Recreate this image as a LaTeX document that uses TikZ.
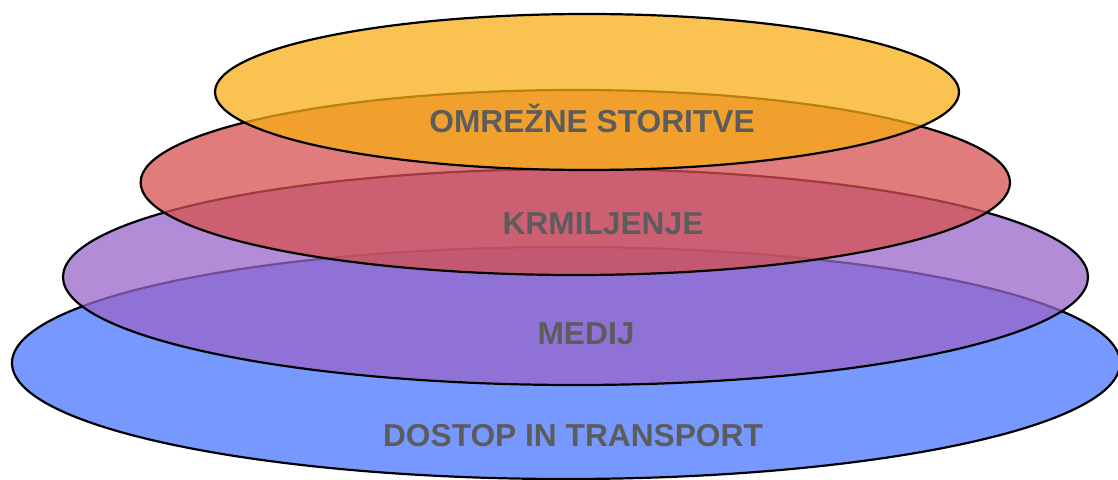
\documentclass[tikz,border=0pt]{standalone}
\usepackage{fontspec}
\setmainfont{Liberation Sans}
\definecolor{laydostop}{RGB}{73,119,255}
\definecolor{laymedij}{RGB}{154,102,202}
\definecolor{laykrmil}{RGB}{213,80,80}
\definecolor{layomrez}{RGB}{248,173,21}
\definecolor{laytext}{RGB}{92,92,92}

\begin{document}
\begin{tikzpicture}[x=1pt,y=-1pt,
      layer/.style={draw=black,line width=2.2pt,fill opacity=0.75},
      every node/.style={inner sep=0pt,anchor=base,text=laytext,
        font=\fontsize{31.7}{36}\selectfont\bfseries}]
      \useasboundingbox (0,0) rectangle (1118,479);
      \clip (0,0) rectangle (1118,479);
      \draw[layer,fill=laydostop](566,363)ellipse[x radius=554,y radius=116];
      \draw[layer,fill=laymedij](575.5,277)ellipse[x radius=512.5,y radius=108];
      \draw[layer,fill=laykrmil](575.3,182.5)ellipse[x radius=434.7,y radius=92.5];
      \draw[layer,fill=layomrez](587,92)ellipse[x radius=372,y radius=78];
      \node(omrezne) at (592,132){OMREŽNE STORITVE};
      \node(krmiljenje) at (603,234){KRMILJENJE};
      \node(medij) at (586,344.3){MEDIJ};
      \node(dostop) at (573,446){DOSTOP IN TRANSPORT};
    \end{tikzpicture}
\end{document}
